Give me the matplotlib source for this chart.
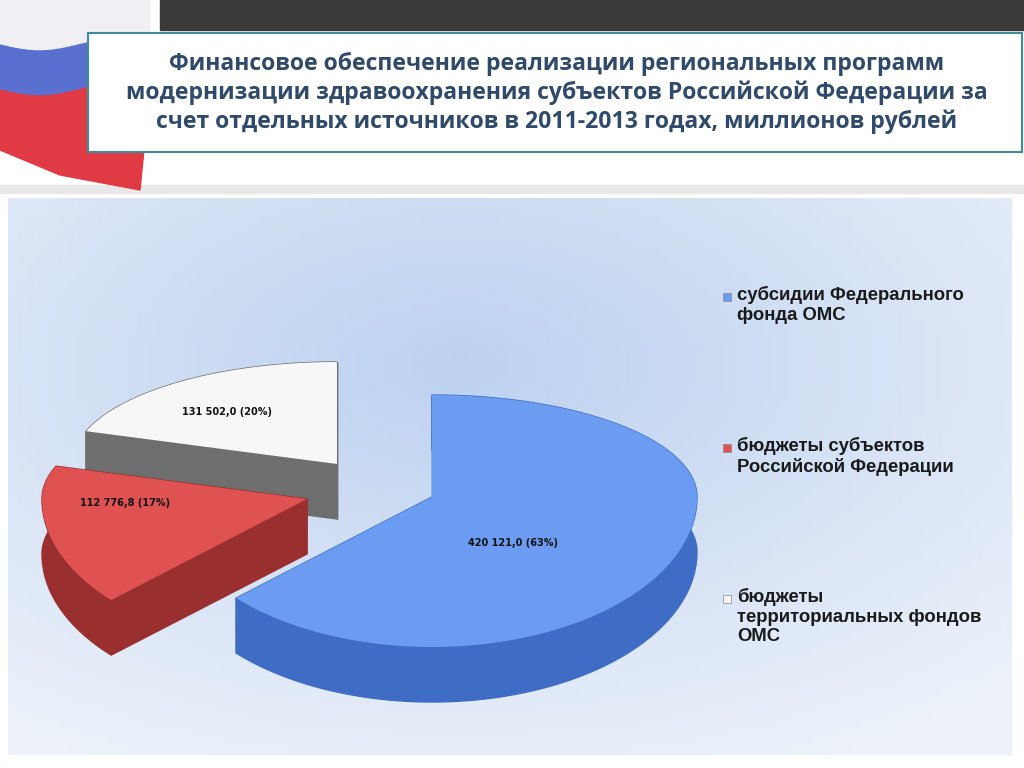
import numpy as np
import matplotlib
matplotlib.use("Agg")
import matplotlib.pyplot as plt
from matplotlib.patches import Polygon, Rectangle

title = ("Финансовое обеспечение реализации региональных программ\n"
         "модернизации здравоохранения субъектов Российской Федерации за\n"
         "счет отдельных источников в 2011-2013 годах, миллионов рублей")
categories = ["субсидии Федерального\nфонда ОМС",
              "бюджеты субъектов\nРоссийской Федерации",
              "бюджеты\nтерриториальных фондов\nОМС"]
values = [420121.0, 112776.8, 131502.0]
labels = ["420 121,0 (63%)", "112 776,8 (17%)", "131 502,0 (20%)"]

top_cols = ["#6B9CF2", "#E05252", "#F7F7F7"]
side_cols = ["#3F6CC4", "#9A2F2F", "#6E6E6E"]
explode = [(0, 0), (-125, 2), (-95, -33)]

fig = plt.figure(figsize=(10.24, 7.68), dpi=100)
ax = fig.add_axes([0, 0, 1, 1])
ax.set_xlim(0, 1024); ax.set_ylim(768, 0); ax.axis("off")

yy, xx = np.mgrid[0:1:100j, 0:1:100j]
d = np.sqrt((xx - 0.45) ** 2 + (yy - 0.3) ** 2)
c0 = np.array([0.74, 0.82, 0.94]); c1 = np.array([0.93, 0.95, 0.98])
t = np.clip(d / 0.8, 0, 1)[..., None]
grad = c0 * (1 - t) + c1 * t
ax.imshow(grad, extent=(8, 1012, 755, 198), aspect="auto", zorder=0)

ax.add_patch(Rectangle((160, 0), 864, 30, color="#3A3A3A", zorder=1))
ax.add_patch(Rectangle((0, 185), 1024, 8, color="#E8E8E8", zorder=1))
xs = np.linspace(0, 150, 50)
ax.add_patch(Polygon([(0, 0), (150, 0), (150, 40)] + [(x, 45 + 6*np.sin(x/25)) for x in xs[::-1]], color="#F0F0F4", zorder=1))
ax.add_patch(Polygon([(x, 45 + 6*np.sin(x/25)) for x in xs] + [(x, 90 + 6*np.sin(x/25)) for x in xs[::-1]], color="#5A70D0", zorder=1))
ax.add_patch(Polygon([(x, 90 + 6*np.sin(x/25)) for x in xs] + [(140, 190), (60, 175), (0, 150)], color="#E03A44", zorder=1))

ax.add_patch(Rectangle((88, 33), 934, 119, facecolor="white", edgecolor="#3E8E9A", lw=1.5, zorder=2))
ax.text(557, 93, title, ha="center", va="center", fontsize=16.6, fontweight="bold",
        family="Open Sans", color="#2F4A6A", linespacing=1.25, zorder=3)

cx, cy, rx, depth = 432, 497, 265, 55
ry_back, ry_front = 102, 150
fr = np.array(values) / sum(values)
start = 90.0
slices = []
for f in fr:
    a1 = start; a0 = start - 360 * f
    slices.append((a0, a1)); start = a0

def pts(a0, a1, ox, oy, dz=0):
    th = np.radians(np.linspace(a0, a1, 160))
    s = np.sin(th)
    ry = np.where(s > 0, ry_back, ry_front)
    return np.column_stack([ox + rx*np.cos(th), oy - ry*s + dz])

for i in [2, 1, 0]:
    a0, a1 = slices[i]
    ox, oy = cx + explode[i][0], cy + explode[i][1]
    arc = pts(a0, a1, ox, oy)
    for a in (a0, a1):
        p = pts(a, a, ox, oy)[0]
        ax.add_patch(Polygon([(ox, oy), p, p + [0, depth], (ox, oy + depth)],
                             color=side_cols[i], zorder=4 + (2 - i)))
    wall = np.vstack([arc, arc[::-1] + [0, depth]])
    ax.add_patch(Polygon(wall, color=side_cols[i], zorder=4 + (2 - i)))
    ax.add_patch(Polygon(np.vstack([[ox, oy], arc]), facecolor=top_cols[i],
                         edgecolor="none", zorder=4.5 + (2 - i)))

lab_pos = [(513, 543), (125, 503), (227, 412)]
for (x, y), s in zip(lab_pos, labels):
    ax.text(x, y, s, ha="center", va="center", fontsize=7, fontweight="bold", color="#111", zorder=10)

leg_y = [298, 449, 600]
for y, c, name in zip(leg_y, top_cols, categories):
    ax.add_patch(Rectangle((723, y - 5), 8, 8, facecolor=c, edgecolor="#888", lw=0.5, zorder=10))
    ax.text(737, y - 12, name, ha="left", va="top", fontsize=13.3, family="Liberation Sans",
            fontweight="bold", color="#1A1A1A", linespacing=1.2, zorder=10)

fig.savefig("out.png", dpi=100)
